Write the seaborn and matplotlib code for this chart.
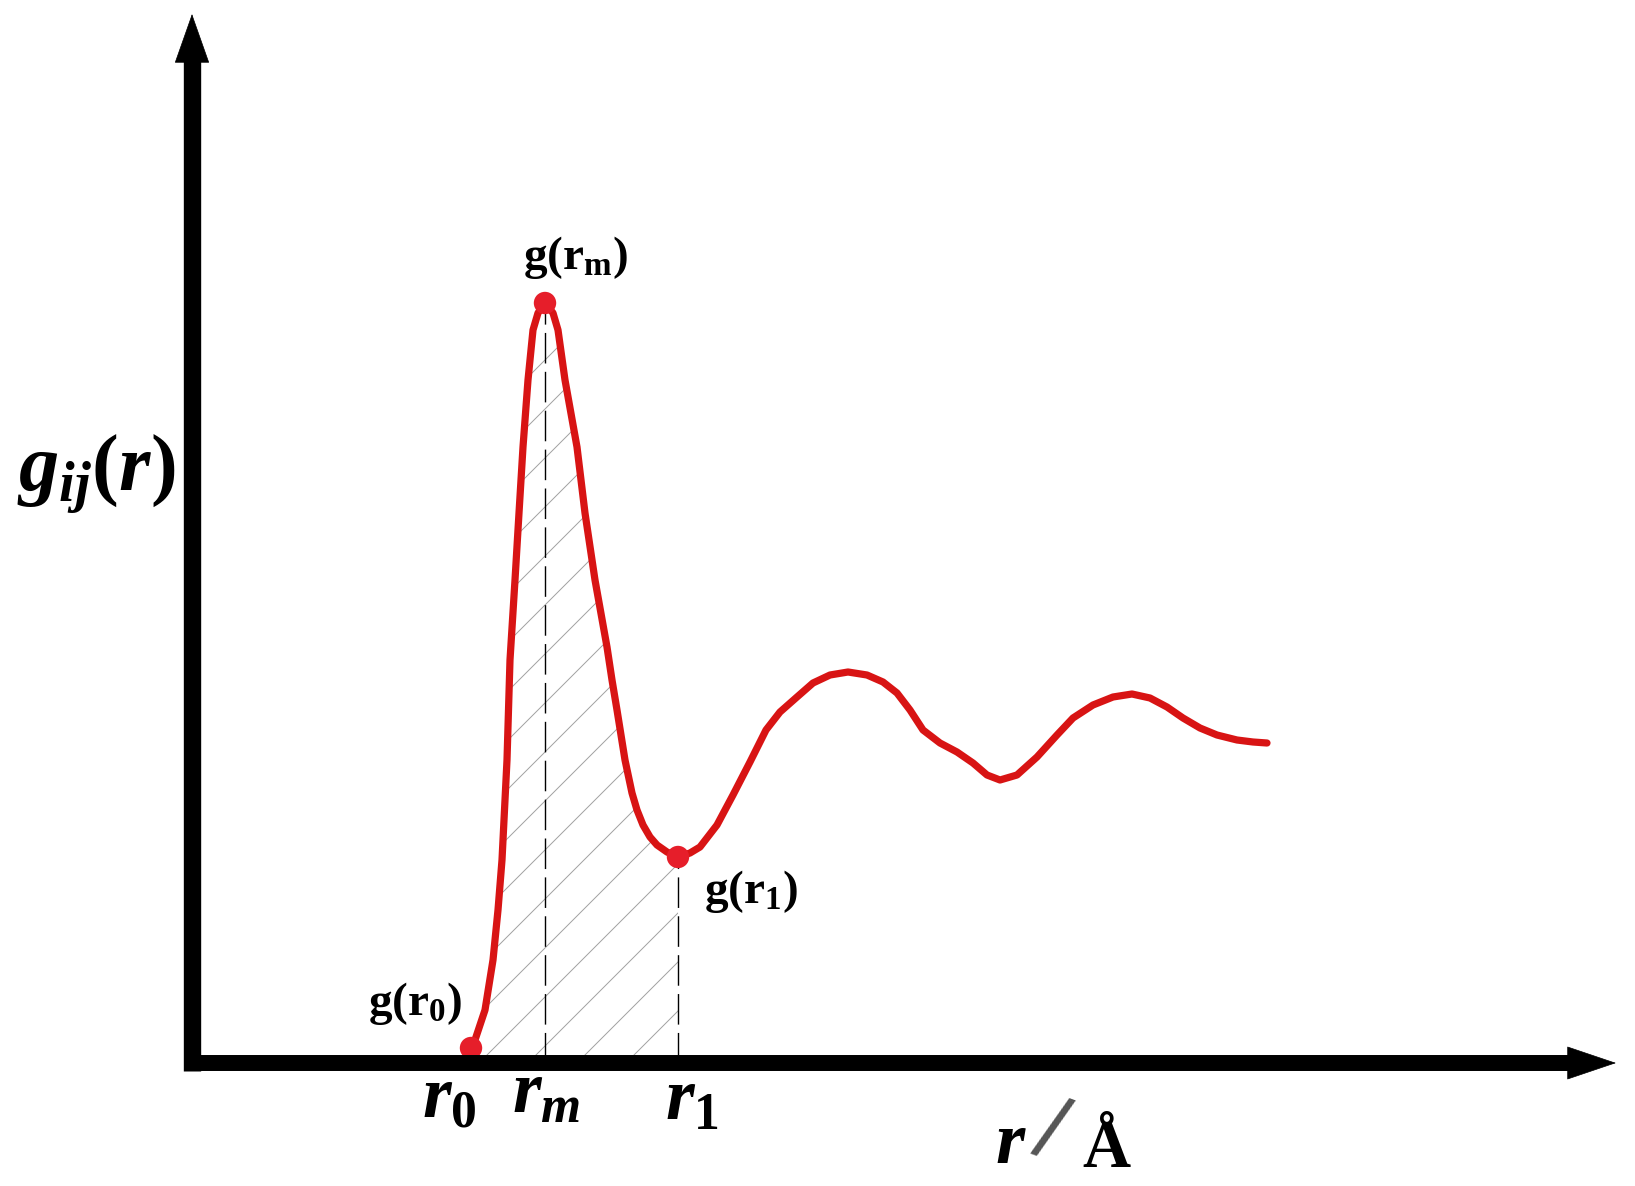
import numpy as np
import matplotlib
matplotlib.use("Agg")
import matplotlib.pyplot as plt
import seaborn as sns

# curve (r in arbitrary units, g(r) in arbitrary units)
r_vals = [2.79, 2.83, 2.93, 3.01, 3.06, 3.10, 3.15, 3.18, 3.23, 3.27, 3.31, 3.36,
          3.41, 3.46, 3.53, 3.61, 3.66, 3.73, 3.85, 3.93, 4.03, 4.15, 4.20, 4.25,
          4.33, 4.40, 4.45, 4.51, 4.58, 4.65, 4.75, 4.86, 4.98, 5.08, 5.25, 5.41,
          5.58, 5.74, 5.88, 6.05, 6.21, 6.38, 6.56, 6.75, 6.91, 7.05, 7.18, 7.31,
          7.48, 7.65, 7.81, 7.95, 8.08, 8.25, 8.45, 8.65, 8.81, 9.01, 9.21, 9.40,
          9.58, 9.75, 9.91, 10.08, 10.25, 10.45, 10.61, 10.75]
g_vals = [0.15, 0.23, 0.53, 1.03, 1.53, 2.03, 3.03, 4.03, 4.83, 5.50, 6.16, 6.83,
          7.33, 7.50, 7.60, 7.50, 7.33, 6.83, 6.16, 5.50, 4.83, 4.16, 3.83, 3.53,
          3.03, 2.70, 2.53, 2.38, 2.26, 2.18, 2.11, 2.06, 2.10, 2.16, 2.38, 2.68,
          3.01, 3.33, 3.51, 3.66, 3.80, 3.88, 3.91, 3.88, 3.81, 3.70, 3.53, 3.33,
          3.20, 3.11, 3.00, 2.88, 2.83, 2.88, 3.06, 3.28, 3.45, 3.58, 3.66, 3.69,
          3.65, 3.56, 3.45, 3.35, 3.28, 3.23, 3.21, 3.20]

# marked points r0, rm, r1
mark_names = ["r0", "rm", "r1"]
mark_r = [2.79, 3.53, 4.86]
mark_g = [0.15, 7.60, 2.06]

r_arr = np.array(r_vals)
g_arr = np.array(g_vals)

sns.set_theme(style="white")
plt.rcParams["mathtext.fontset"] = "custom"
plt.rcParams["mathtext.rm"] = "Liberation Serif:bold"
plt.rcParams["mathtext.it"] = "Liberation Serif:italic:bold"
plt.rcParams["mathtext.bf"] = "Liberation Serif:bold"
plt.rcParams["font.family"] = ["Liberation Serif", "DejaVu Sans"]
plt.rcParams["text.color"] = "black"

fig = plt.figure(figsize=(16.35, 11.86), dpi=100)
ax = fig.add_axes([0, 0, 1, 1])
ax.set_xlim(-1.92, 14.43)
ax.set_ylim(-1.23, 10.63)
ax.set_axis_off()

red_line = "#d81414"
red_dot = "#e61e2a"

# hatched area under the first peak
inside = r_arr <= mark_r[2]
area = ax.fill_between(r_arr[inside], g_arr[inside], 0, facecolor="none",
                       edgecolor="none", zorder=1)
clip = area.get_paths()[0]
for c in np.arange(mark_r[1] - 7.03, mark_r[2], 0.49):
    xs = np.array([mark_r[0] - 0.5, mark_r[2] + 0.5])
    ln, = ax.plot(xs, xs - c, color="#a0a0a0", lw=0.7, zorder=1)
    ln.set_clip_path(clip, ax.transData)

# dashed drop lines at rm and r1
for r_m, g_m in zip(mark_r[1:], mark_g[1:]):
    ax.plot([r_m, r_m], [0, g_m], color="black", lw=1.0,
            linestyle=(0, (22, 6)), zorder=2)

# the g(r) curve
sns.lineplot(x=r_arr, y=g_arr, sort=False, estimator=None, color=red_line,
             lw=5.2, ax=ax, zorder=3)
ax.lines[-1].set_solid_joinstyle("round")
ax.lines[-1].set_solid_capstyle("round")
sns.scatterplot(x=mark_r, y=mark_g, color=red_dot, s=260, edgecolor="none",
                ax=ax, zorder=4, legend=False)

# axes drawn as thick arrows
ax.plot([0, 0], [-0.08, 10.05], color="black", lw=12.5,
        solid_capstyle="butt", zorder=5)
ax.plot([-0.08, 13.80], [0, 0], color="black", lw=11.5,
        solid_capstyle="butt", zorder=5)
ax.annotate("", xy=(0, 10.49), xytext=(0, 9.0),
            arrowprops=dict(arrowstyle="-|>,head_length=34,head_width=12",
                            mutation_scale=1, color="black", lw=0.5,
                            shrinkA=0, shrinkB=0), zorder=6)
ax.annotate("", xy=(14.24, 0), xytext=(13.0, 0),
            arrowprops=dict(arrowstyle="-|>,head_length=34,head_width=11.5",
                            mutation_scale=1, color="black", lw=0.5,
                            shrinkA=0, shrinkB=0), zorder=6)

# axis labels
ax.text(-1.75, 5.72, r"$g_{ij}(r)$", fontsize=58, ha="left", va="baseline")
ax.text(8.03, -1.00, r"$r$", fontsize=54, ha="left", va="baseline")
ax.text(8.58, -0.72, "/", fontsize=64, color="#555555", ha="center",
        va="center", rotation=-20, family="Liberation Sans")
ax.text(8.90, -1.04, "Å", fontsize=48, fontweight="bold", ha="left",
        va="baseline")

# tick labels r0, rm, r1
ax.text(2.30, -0.54, r"$r_0$", fontsize=53, ha="left", va="baseline")
ax.text(3.20, -0.50, r"$r_m$", fontsize=53, ha="left", va="baseline")
ax.text(4.73, -0.57, r"$r_1$", fontsize=53, ha="left", va="baseline")

# point labels
ax.text(3.31, 7.94, r"$\mathrm{g(r_m)}$", fontsize=34, ha="left", va="baseline")
ax.text(5.12, 1.60, r"$\mathrm{g(r_1)}$", fontsize=34, ha="left", va="baseline")
ax.text(1.76, 0.48, r"$\mathrm{g(r_0)}$", fontsize=34, ha="left", va="baseline")

fig.savefig("out.png", dpi=100, facecolor="white")
